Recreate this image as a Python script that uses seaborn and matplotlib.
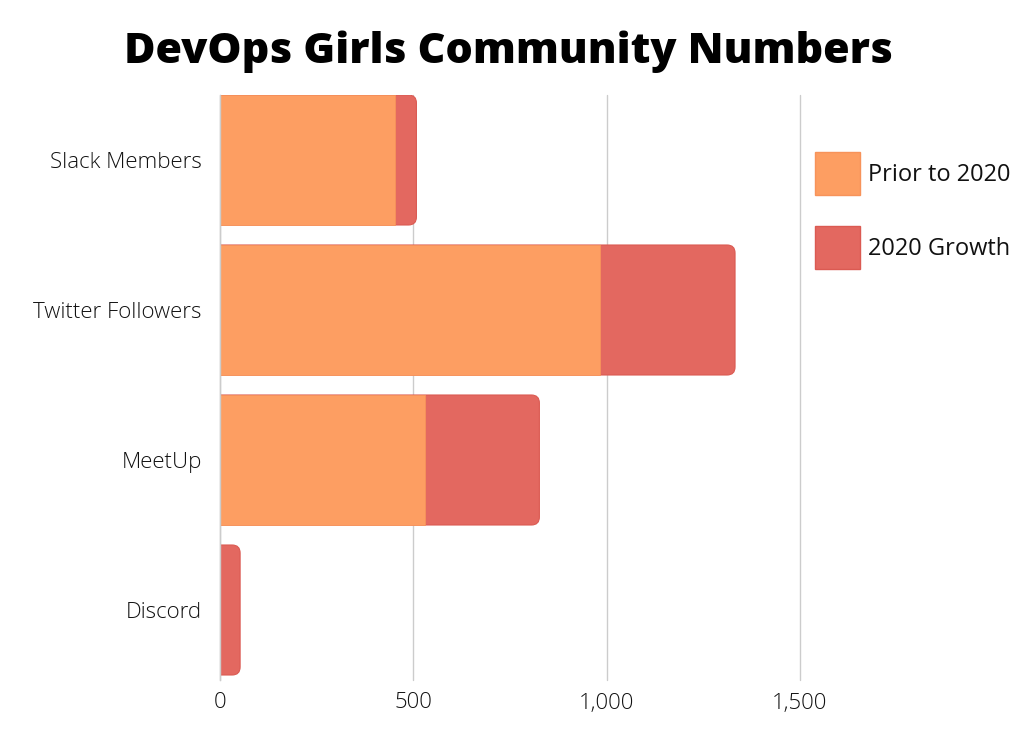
import matplotlib
matplotlib.use("Agg")
import matplotlib.pyplot as plt
import seaborn as sns
import pandas as pd
from matplotlib.patches import FancyBboxPatch
from matplotlib.ticker import FuncFormatter

# Data
categories = ["Slack Members", "Twitter Followers", "MeetUp", "Discord"]
prior = [453, 982, 531, 0]
growth = [55, 350, 295, 52]
x_ticks = [0, 500, 1000, 1500]

orange = "#fd9e62"
red = "#e36860"

df = pd.DataFrame({"Channel": categories, "Prior": prior, "Growth": growth})
df["Total"] = df["Prior"] + df["Growth"]

sns.set_style("white")
plt.rcParams["font.family"] = ["Open Sans", "DejaVu Sans"]

fig = plt.figure(figsize=(10.24, 7.4), dpi=100)
ax = fig.add_axes([220 / 1024, 60 / 740, 580 / 1024, 585 / 740])

bar_w = 130 / 150
sns.barplot(data=df, y="Channel", x="Total", order=categories, color=red,
            orient="h", width=bar_w, saturation=1, ax=ax)
n_red = len(ax.patches)
sns.barplot(data=df, y="Channel", x="Prior", order=categories, color=orange,
            orient="h", width=bar_w, saturation=1, ax=ax)

ax.set_xlim(0, 1500)
ax.set_ylim(3 + 70 / 150, -65 / 150)

# swap the red totals for bars with a rounded right end
px_x = 580 / 1500
px_y = 150
r_px = 8
aspect = px_x / px_y
red_patches = list(ax.patches[:n_red])
for p in red_patches:
    x0, y0 = p.get_x(), p.get_y()
    w, h = p.get_width(), p.get_height()
    ext = 30
    rb = FancyBboxPatch((x0 - ext, min(y0, y0 + h)), w + ext, abs(h),
                        boxstyle=f"round,pad=0,rounding_size={r_px / px_x}",
                        mutation_aspect=aspect, facecolor=red,
                        edgecolor="#db5a52", linewidth=0.8, zorder=p.get_zorder())
    p.remove()
    ax.add_patch(rb)
for p in ax.patches:
    if p.get_facecolor()[:3] == matplotlib.colors.to_rgb(orange):
        p.set_zorder(3)
        p.set_edgecolor("#f7935a")
        p.set_linewidth(0.6)

ax.set_xticks(x_ticks)
ax.xaxis.set_major_formatter(FuncFormatter(lambda v, _: f"{int(v):,}"))
ax.grid(axis="x", color="#cccccc", linewidth=1)
for gl in ax.get_xgridlines():
    gl.set_clip_on(False)
ax.set_axisbelow(True)
for s in ["top", "right", "bottom"]:
    ax.spines[s].set_visible(False)
ax.spines["left"].set_color("#cccccc")
ax.spines["left"].set_linewidth(1)
ax.spines["left"].set_zorder(5)
ax.tick_params(axis="both", length=0, labelsize=16, colors="#111111")
ax.tick_params(axis="y", pad=13)
ax.tick_params(axis="x", pad=9)
for lbl in ax.get_xticklabels() + ax.get_yticklabels():
    lbl.set_fontweight("light")
ax.set_xlabel("")
ax.set_ylabel("")

fig.text(0.497, 1 - 52 / 740, "DevOps Girls Community Numbers", ha="center",
         va="center", fontsize=31, fontweight="heavy", color="black")

handles = [plt.Rectangle((0, 0), 1, 1, facecolor=orange, edgecolor="#f7935a"),
           plt.Rectangle((0, 0), 1, 1, facecolor=red, edgecolor="#db5a52")]
leg = fig.legend(handles, ["Prior to 2020", "2020 Growth"], loc="upper left",
                 bbox_to_anchor=(815 / 1024, 1 - 152 / 740), frameon=False,
                 fontsize=17, handlelength=1.9, handleheight=2.45,
                 labelspacing=1.3, handletextpad=0.35, borderpad=0, borderaxespad=0)
for t in leg.get_texts():
    t.set_color("#111111")

fig.savefig("out.png", dpi=100)
